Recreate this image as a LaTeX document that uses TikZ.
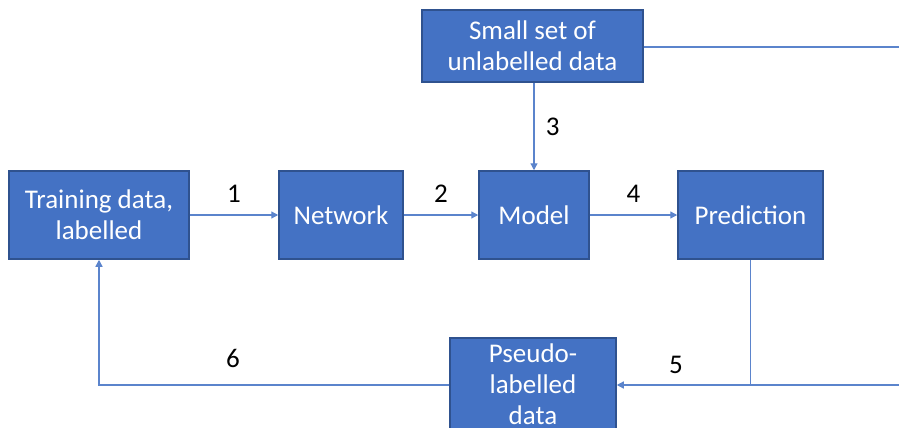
\documentclass[tikz,border=0pt]{standalone}
\usepackage{fontspec}
\setmainfont{Carlito}
\usetikzlibrary{arrows.meta}
\definecolor{cajaazul}{HTML}{4472C4}
\definecolor{bordeazul}{HTML}{2F528F}
\definecolor{lineaazul}{HTML}{5B84CC}

\begin{document}
\begin{tikzpicture}[x=1pt, y=-1pt, font=\fontsize{27}{31}\selectfont,
	caja/.style = {fill=cajaazul, draw=bordeazul, line width=1.5pt, text=white, align=center, inner sep=0pt},
	flecha/.style = {draw=lineaazul, line width=1.3pt, -{Triangle[length=7pt,width=7pt]}},
	linea/.style = {draw=lineaazul, line width=1.3pt},
	num/.style = {text=black},]
		\useasboundingbox (0,0) rectangle (899,428);
		\clip (0,0) rectangle (899,428);
		\node[caja, minimum width=221pt, minimum height=72pt] (small) at (532.5,46) {Small set of\\unlabelled data};
		\node[caja, minimum width=180pt, minimum height=88pt] (train) at (99,215) {Training data,\\labelled};
		\node[caja, minimum width=124pt, minimum height=88pt] (net) at (341,215) {Network};
		\node[caja, minimum width=110pt, minimum height=88pt] (model) at (534,215) {Model};
		\node[caja, minimum width=145pt, minimum height=88pt] (pred) at (750.5,215) {Prediction};
		\node[caja, minimum width=166pt, minimum height=92pt] (pseudo) at (533,384) {Pseudo-\\labelled\\data};
		\coordinate (esteA) at (899,47);
		\coordinate (esteB) at (899,385);
		\coordinate (giro) at (750.5,385);
		
		\draw[flecha] (train) -- node[num, above=9pt] {1} (net);
		\draw[flecha] (net) -- node[num, above=9pt] {2} (model);
		\draw[flecha] (model) -- node[num, above=9pt] {4} (pred);
		\draw[flecha] (small.south -| model.north) -- node[num, right=8pt] {3} (model.north);
		\draw[linea] (small.east |- esteA) -- (esteA);
		\draw[flecha] (pred.south) |- (pseudo.east |- giro);
		\draw[linea] (giro) -- (esteB);
		\node[num] (n5) at (676,365) {5};
		\draw[flecha] (pseudo.west |- giro) -| (train.south);
		\node[num] (n6) at (233,358) {6};
	\end{tikzpicture}
\end{document}
